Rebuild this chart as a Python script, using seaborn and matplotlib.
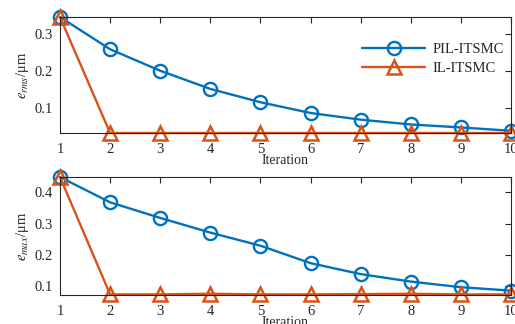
import numpy as np
import seaborn as sns
import pandas as pd
import matplotlib.pyplot as plt

# data
iters = [1, 2, 3, 4, 5, 6, 7, 8, 9, 10]
rms_pil = [0.345, 0.258, 0.200, 0.151, 0.115, 0.086, 0.068, 0.055, 0.047, 0.038]
rms_il = [0.345, 0.032, 0.032, 0.032, 0.032, 0.032, 0.032, 0.032, 0.032, 0.032]
max_pil = [0.449, 0.368, 0.318, 0.271, 0.229, 0.173, 0.138, 0.114, 0.096, 0.085]
max_il = [0.449, 0.073, 0.073, 0.075, 0.073, 0.073, 0.074, 0.075, 0.073, 0.073]

blue = '#0072BD'
orange = '#D95319'

sns.set_style('white')
plt.rcParams['font.family'] = ['Liberation Serif', 'DejaVu Serif']
plt.rcParams['mathtext.fontset'] = 'stix'


def panel(ax, pil, il, ylabel, ylim, yticks):
    df = pd.DataFrame({'it': iters, 'pil': pil, 'il': il})
    sns.lineplot(data=df, x='it', y='pil', ax=ax, color=blue, lw=1.7,
                 marker='o', ms=9.5, mfc='none', mec=blue, mew=1.7,
                 label='PIL-ITSMC', clip_on=False)
    sns.lineplot(data=df, x='it', y='il', ax=ax, color=orange, lw=1.7,
                 marker='^', ms=10, mfc='none', mec=orange, mew=1.8,
                 label='IL-ITSMC', clip_on=False)
    ax.set_xlim(1, 10)
    ax.set_ylim(*ylim)
    ax.set_xticks(iters)
    ax.set_yticks(yticks)
    ax.set_xlabel('Iteration', fontsize=10, labelpad=-1)
    ax.set_ylabel(ylabel, fontsize=10.5, labelpad=3)
    ax.tick_params(direction='in', top=True, right=True, length=4,
                   labelsize=10.5, colors='#262626', pad=5)
    ax.tick_params(axis='x', pad=7)
    for s in ax.spines.values():
        s.set_color('#262626')
        s.set_linewidth(0.8)


fig = plt.figure(figsize=(5.15, 3.24), dpi=100)
ax1 = fig.add_axes([0.1165, 0.5895, 0.8757, 0.358])
ax2 = fig.add_axes([0.1165, 0.0895, 0.8757, 0.364])

panel(ax1, rms_pil, rms_il, r'$e_{rms}$/μm', (0.032, 0.345), [0.1, 0.2, 0.3])
panel(ax2, max_pil, max_il, r'$e_{max}$/μm', (0.071, 0.449), [0.1, 0.2, 0.3, 0.4])

ax1.legend(loc='upper right', bbox_to_anchor=(1.0, 0.84), frameon=False,
           fontsize=10.5, handlelength=4.3, labelspacing=0.4, borderaxespad=0.1,
           handletextpad=0.5)
ax2.get_legend().remove()

plt.savefig('out.png', dpi=100)
